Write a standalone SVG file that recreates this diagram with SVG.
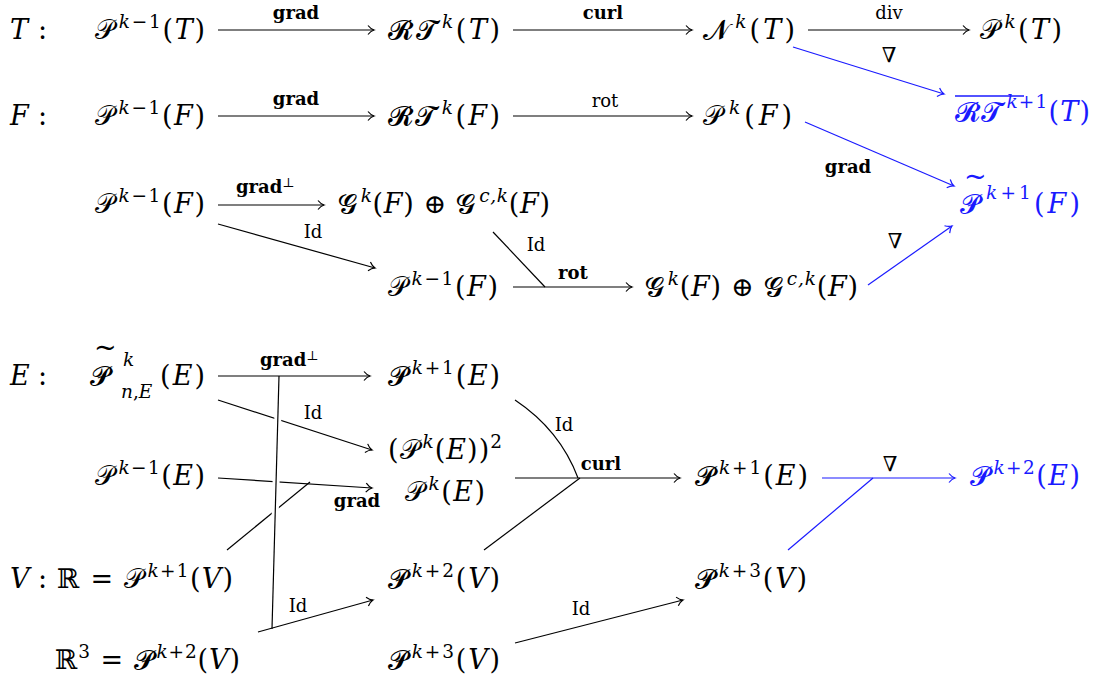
<svg xmlns="http://www.w3.org/2000/svg" width="1097" height="682" viewBox="0 0 1097 682">
<style>
.m{font-family:"DejaVu Serif","Liberation Serif",serif;font-size:27px;fill:#000}
.bl{fill:#1a1aff}
.i{font-style:italic}
.b{font-weight:bold}
.s{font-size:18.5px}
.l{font-family:"DejaVu Serif","Liberation Serif",serif;font-size:18px;fill:#000}
.nb{font-size:21px}
.c{fill:none;stroke:#000;stroke-width:1.2}
.cb{fill:none;stroke:#1a1aff;stroke-width:1.2}
.halo{fill:none;stroke:#fff;stroke-width:7}
</style>
<defs>
<marker id="ak" viewBox="-8 -6 10 12" refX="0" refY="0" markerWidth="10" markerHeight="12" markerUnits="userSpaceOnUse" orient="auto"><path d="M-6,-4.5 C-4,-2 -1.5,-0.5 0,0 C-1.5,0.5 -4,2 -6,4.5" fill="none" stroke="#000" stroke-width="1.2"/></marker>
<marker id="ab" viewBox="-8 -6 10 12" refX="0" refY="0" markerWidth="10" markerHeight="12" markerUnits="userSpaceOnUse" orient="auto"><path d="M-6,-4.5 C-4,-2 -1.5,-0.5 0,0 C-1.5,0.5 -4,2 -6,4.5" fill="none" stroke="#1a1aff" stroke-width="1.2"/></marker>
</defs>

<g id="labels">
<text class="m" x="10" y="39"><tspan class="i">T</tspan><tspan x="38">:</tspan></text>
<text class="m" x="10" y="125"><tspan class="i">F</tspan><tspan x="38">:</tspan></text>
<text class="m" x="10" y="385"><tspan class="i">E</tspan><tspan x="38">:</tspan></text>
<text class="m" x="10" y="588"><tspan class="i">V</tspan><tspan x="38">:</tspan></text>
</g>

<g id="connectors">
<line class="c" x1="218" y1="30" x2="374" y2="30" marker-end="url(#ak)"/>
<line class="c" x1="513" y1="30" x2="692" y2="30" marker-end="url(#ak)"/>
<line class="c" x1="808" y1="30" x2="969" y2="30" marker-end="url(#ak)"/>
<line class="cb" x1="793" y1="47" x2="944" y2="94" marker-end="url(#ab)"/>
<line class="c" x1="218" y1="116" x2="374" y2="116" marker-end="url(#ak)"/>
<line class="c" x1="513" y1="116" x2="692" y2="116" marker-end="url(#ak)"/>
<line class="cb" x1="805" y1="122" x2="954" y2="186" marker-end="url(#ab)"/>
<line class="c" x1="218" y1="205" x2="324" y2="205" marker-end="url(#ak)"/>
<line class="c" x1="218" y1="224" x2="375" y2="268" marker-end="url(#ak)"/>
<line class="c" x1="493" y1="232" x2="545" y2="287"/>
<line class="c" x1="513" y1="287" x2="632" y2="287" marker-end="url(#ak)"/>
<line class="cb" x1="868" y1="285" x2="952" y2="226" marker-end="url(#ab)"/>
<line class="c" x1="218" y1="376" x2="370" y2="376" marker-end="url(#ak)"/>
<line class="c" x1="218" y1="400" x2="372" y2="450" marker-end="url(#ak)"/>
<line class="c" x1="218" y1="478" x2="372" y2="488" marker-end="url(#ak)"/>
<line class="c" x1="227" y1="550" x2="310" y2="482"/>
<line class="c" x1="258" y1="632" x2="373" y2="600" marker-end="url(#ak)"/>
<line class="halo" x1="278.7" y1="386" x2="272.3" y2="620"/>
<line class="c" x1="279" y1="376" x2="272" y2="629"/>
<line class="c" x1="515" y1="478" x2="680" y2="478" marker-end="url(#ak)"/>
<path class="c" d="M515,400 Q560,430 578,478"/>
<line class="c" x1="484" y1="550" x2="580" y2="478"/>
<line class="cb" x1="822" y1="478" x2="955" y2="478" marker-end="url(#ab)"/>
<line class="cb" x1="788" y1="550" x2="873" y2="478"/>
<line class="c" x1="515" y1="643" x2="683" y2="600" marker-end="url(#ak)"/>
</g>

<g id="edge-labels">
<text class="l b" x="296" y="19" text-anchor="middle">grad</text>
<text class="l b" x="603" y="19" text-anchor="middle">curl</text>
<text class="l" x="889" y="19" text-anchor="middle">div</text>
<text class="l bl nb" x="889" y="62" text-anchor="middle">∇</text>
<text class="l b" x="296" y="105" text-anchor="middle">grad</text>
<text class="l" x="605" y="107" text-anchor="middle">rot</text>
<text class="l b bl" x="848" y="173" text-anchor="middle">grad</text>
<text class="l" x="236" y="193"><tspan class="b">grad</tspan><tspan font-size="13" dy="-6">⊥</tspan></text>
<text class="l" x="313" y="238" text-anchor="middle">Id</text>
<text class="l" x="536" y="251" text-anchor="middle">Id</text>
<text class="l b" x="573" y="279" text-anchor="middle">rot</text>
<text class="l bl nb" x="895" y="248" text-anchor="middle">∇</text>
<text class="l" x="260" y="366"><tspan class="b">grad</tspan><tspan font-size="13" dy="-6">⊥</tspan></text>
<text class="l" x="313" y="419" text-anchor="middle">Id</text>
<text class="l b" x="357" y="507" text-anchor="middle">grad</text>
<text class="l" x="564" y="431" text-anchor="middle">Id</text>
<text class="l b" x="601" y="470" text-anchor="middle">curl</text>
<text class="l bl nb" x="890" y="471" text-anchor="middle">∇</text>
<text class="l" x="298" y="612" text-anchor="middle">Id</text>
<text class="l" x="581" y="615" text-anchor="middle">Id</text>
</g>

<g id="n-PkmT"><text class="m" x="95" y="39" textLength="110" lengthAdjust="spacing">𝒫<tspan class="s i" dx="3" dy="-11">k</tspan><tspan class="s">−1</tspan><tspan dy="11">(</tspan><tspan class="i">T</tspan>)</text></g>
<g id="n-RTkT"><text class="m" x="388" y="39" textLength="112" lengthAdjust="spacing">𝓡𝓣<tspan class="s i" dx="3" dy="-11">k</tspan><tspan dy="11">(</tspan><tspan class="i">T</tspan>)</text></g>
<g id="n-NkT"><text class="m" x="703" y="39" textLength="92" lengthAdjust="spacing">𝓝<tspan class="s i" dx="3" dy="-11">k</tspan><tspan dy="11">(</tspan><tspan class="i">T</tspan>)</text></g>
<g id="n-PkT"><text class="m" x="980" y="39" textLength="82" lengthAdjust="spacing">𝒫<tspan class="s i" dx="3" dy="-11">k</tspan><tspan dy="11">(</tspan><tspan class="i">T</tspan>)</text></g>
<g id="n-RTbar"><line x1="955" y1="96" x2="1024" y2="96" stroke="#1a1aff" stroke-width="1.6"/><text class="m bl" x="955" y="121" textLength="135" lengthAdjust="spacing">𝓡𝓣<tspan class="s i" dx="3" dy="-13">k</tspan><tspan class="s">+1</tspan><tspan dy="13">(</tspan><tspan class="i">T</tspan>)</text></g>

<g id="n-PkmF"><text class="m" x="95" y="125" textLength="110" lengthAdjust="spacing">𝒫<tspan class="s i" dx="3" dy="-11">k</tspan><tspan class="s">−1</tspan><tspan dy="11">(</tspan><tspan class="i">F</tspan>)</text></g>
<g id="n-RTkF"><text class="m" x="388" y="125" textLength="112" lengthAdjust="spacing">𝓡𝓣<tspan class="s i" dx="3" dy="-11">k</tspan><tspan dy="11">(</tspan><tspan class="i">F</tspan>)</text></g>
<g id="n-PkF"><text class="m" x="703" y="125" textLength="89" lengthAdjust="spacing">𝒫<tspan class="s i" dx="3" dy="-11">k</tspan><tspan dy="11">(</tspan><tspan class="i">F</tspan>)</text></g>
<g id="n-Ptilde"><text class="m bl" x="964" y="186" font-size="20">~</text><text class="m bl" x="960" y="213" textLength="120" lengthAdjust="spacing">𝓟<tspan class="s i" dx="4" dy="-14">k</tspan><tspan class="s">+1</tspan><tspan dy="14">(</tspan><tspan class="i">F</tspan>)</text></g>

<g id="n-PkmF2"><text class="m" x="95" y="213" textLength="110" lengthAdjust="spacing">𝒫<tspan class="s i" dx="3" dy="-11">k</tspan><tspan class="s">−1</tspan><tspan dy="11">(</tspan><tspan class="i">F</tspan>)</text></g>
<g id="n-GG1"><text class="m" x="338" y="213" textLength="212" lengthAdjust="spacing">𝓖<tspan class="s i" dx="3" dy="-11">k</tspan><tspan dy="11">(</tspan><tspan class="i">F</tspan>) ⊕ 𝓖<tspan class="s i" dx="3" dy="-11">c,k</tspan><tspan dy="11">(</tspan><tspan class="i">F</tspan>)</text></g>
<g id="n-PkmF3"><text class="m" x="388" y="296" textLength="110" lengthAdjust="spacing">𝒫<tspan class="s i" dx="3" dy="-11">k</tspan><tspan class="s">−1</tspan><tspan dy="11">(</tspan><tspan class="i">F</tspan>)</text></g>
<g id="n-GG2"><text class="m" x="645" y="296" textLength="213" lengthAdjust="spacing">𝓖<tspan class="s i" dx="3" dy="-11">k</tspan><tspan dy="11">(</tspan><tspan class="i">F</tspan>) ⊕ 𝓖<tspan class="s i" dx="3" dy="-11">c,k</tspan><tspan dy="11">(</tspan><tspan class="i">F</tspan>)</text></g>

<g id="n-PtnE"><text class="m" x="94" y="357" font-size="20">~</text><text class="m" x="90" y="385">𝓟</text><text class="m s i" x="123" y="366">k</text><text class="m s" x="121" y="398"><tspan class="i">n</tspan>,<tspan class="i">E</tspan></text><text class="m" x="160" y="385" textLength="45" lengthAdjust="spacing">(<tspan class="i">E</tspan>)</text></g>
<g id="n-Pk1E"><text class="m" x="388" y="385" textLength="112" lengthAdjust="spacing">𝓟<tspan class="s i" dx="3" dy="-11">k</tspan><tspan class="s">+1</tspan><tspan dy="11">(</tspan><tspan class="i">E</tspan>)</text></g>
<g id="n-PkE2"><text class="m" x="388" y="459" textLength="114" lengthAdjust="spacing">(𝒫<tspan class="s i" dx="3" dy="-11">k</tspan><tspan dy="11">(</tspan><tspan class="i">E</tspan>))<tspan class="s" dy="-11">2</tspan></text></g>
<g id="n-PkmE"><text class="m" x="95" y="485" textLength="110" lengthAdjust="spacing">𝒫<tspan class="s i" dx="3" dy="-11">k</tspan><tspan class="s">−1</tspan><tspan dy="11">(</tspan><tspan class="i">E</tspan>)</text></g>
<g id="n-PkE"><text class="m" x="405" y="501" textLength="80" lengthAdjust="spacing">𝒫<tspan class="s i" dx="3" dy="-11">k</tspan><tspan dy="11">(</tspan><tspan class="i">E</tspan>)</text></g>
<g id="n-Pk1E2"><text class="m" x="695" y="485" textLength="113" lengthAdjust="spacing">𝓟<tspan class="s i" dx="3" dy="-11">k</tspan><tspan class="s">+1</tspan><tspan dy="11">(</tspan><tspan class="i">E</tspan>)</text></g>
<g id="n-Pk2E"><text class="m bl" x="970" y="485" textLength="110" lengthAdjust="spacing">𝓟<tspan class="s i" dx="3" dy="-11">k</tspan><tspan class="s">+2</tspan><tspan dy="11">(</tspan><tspan class="i">E</tspan>)</text></g>

<g id="n-V1"><text class="m" x="57" y="588" textLength="176" lengthAdjust="spacing">ℝ = 𝒫<tspan class="s i" dx="3" dy="-11">k</tspan><tspan class="s">+1</tspan><tspan dy="11">(</tspan><tspan class="i">V</tspan>)</text></g>
<g id="n-Pk2V"><text class="m" x="388" y="588" textLength="112" lengthAdjust="spacing">𝓟<tspan class="s i" dx="3" dy="-11">k</tspan><tspan class="s">+2</tspan><tspan dy="11">(</tspan><tspan class="i">V</tspan>)</text></g>
<g id="n-Pk3V"><text class="m" x="695" y="588" textLength="112" lengthAdjust="spacing">𝓟<tspan class="s i" dx="3" dy="-11">k</tspan><tspan class="s">+3</tspan><tspan dy="11">(</tspan><tspan class="i">V</tspan>)</text></g>
<g id="n-R3"><text class="m" x="55" y="669" textLength="185" lengthAdjust="spacing">ℝ<tspan class="s" dy="-11">3</tspan><tspan dy="11"> = 𝓟</tspan><tspan class="s i" dx="3" dy="-11">k</tspan><tspan class="s">+2</tspan><tspan dy="11">(</tspan><tspan class="i">V</tspan>)</text></g>
<g id="n-Pk3V2"><text class="m" x="388" y="669" textLength="112" lengthAdjust="spacing">𝓟<tspan class="s i" dx="3" dy="-11">k</tspan><tspan class="s">+3</tspan><tspan dy="11">(</tspan><tspan class="i">V</tspan>)</text></g>
</svg>
